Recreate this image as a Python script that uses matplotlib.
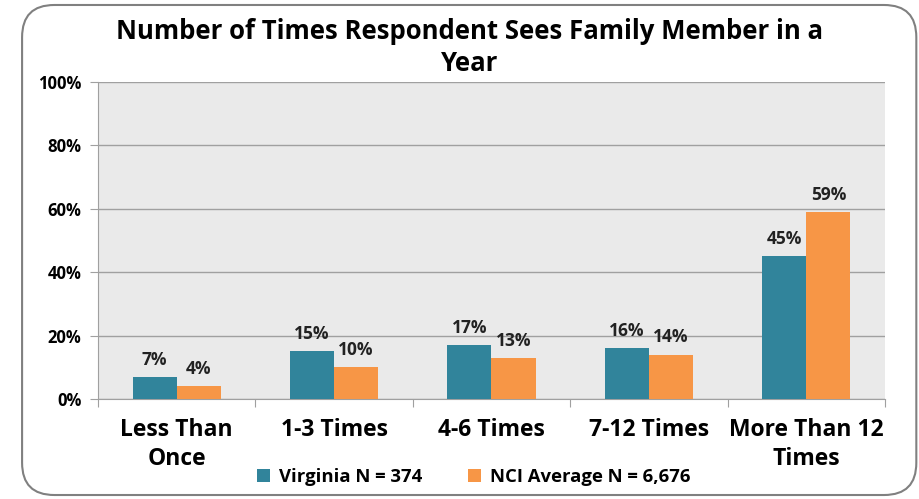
import matplotlib.pyplot as plt
import numpy as np
from matplotlib.patches import FancyBboxPatch

plt.rcParams['font.family'] = ['Open Sans', 'DejaVu Sans']

categories = ['Less Than\nOnce', '1-3 Times', '4-6 Times', '7-12 Times', 'More Than 12\nTimes']
virginia = [7, 15, 17, 16, 45]
nci = [4, 10, 13, 14, 59]
series_names = ['Virginia N = 374', 'NCI Average N = 6,676']
yticks = [0, 20, 40, 60, 80, 100]

teal = '#31849B'
orange = '#F79646'

fig = plt.figure(figsize=(9.2, 4.99), dpi=100)
# rounded chart border
border = FancyBboxPatch((0.024, 0.008), 0.972, 0.982, boxstyle='round,pad=0,rounding_size=0.035',
                        transform=fig.transFigure, facecolor='none', edgecolor='#808080',
                        linewidth=1.5, mutation_aspect=920 / 499, zorder=10)
fig.patches.append(border)

ax = fig.add_axes([98 / 920, 1 - 399 / 499, 787 / 920, 317 / 499])
ax.set_facecolor('#EAEAEA')

x = np.arange(len(categories))
w = 0.28
b1 = ax.bar(x - w / 2, virginia, w, color=teal, label=series_names[0], zorder=3)
b2 = ax.bar(x + w / 2, nci, w, color=orange, label=series_names[1], zorder=3)

for bars, vals in ((b1, virginia), (b2, nci)):
    for rect, v in zip(bars, vals):
        ax.text(rect.get_x() + rect.get_width() / 2, v + 2.6, f'{v}%', ha='center', va='bottom',
                fontsize=12.5, fontweight='bold', color='#222222')

ax.set_xlim(-0.5, len(categories) - 0.5)
ax.set_ylim(0, 100)
ax.set_yticks(yticks)
ax.set_yticklabels([f'{t}%' for t in yticks], fontsize=12, fontweight='bold')
ax.yaxis.grid(True, color='#A0A0A0', linewidth=1, zorder=0)
ax.set_axisbelow(True)

ax.set_xticks(np.arange(len(categories) + 1) - 0.5)
ax.set_xticklabels([])
ax.set_xticks(x, minor=True)
ax.set_xticklabels(categories, minor=True, fontsize=16.5, fontweight='bold', linespacing=1.25)
ax.tick_params(axis='x', which='minor', length=0, pad=14)
ax.tick_params(axis='x', which='major', length=6, color='#A0A0A0')
ax.tick_params(axis='y', length=6, color='#A0A0A0', pad=6)

for s in ['top', 'right']:
    ax.spines[s].set_visible(False)
ax.spines['left'].set_color('#A0A0A0')
ax.spines['bottom'].set_color('#A0A0A0')

fig.text(0.51, 0.905, 'Number of Times Respondent Sees Family Member in a\nYear', ha='center', va='center',
         fontsize=18.5, fontweight='bold', linespacing=1.2)

fig.legend(handles=[b1, b2], loc='center', bbox_to_anchor=(0.515, 0.045), ncol=2, frameon=False,
           prop={'size': 13.3, 'weight': 'bold'}, handlelength=0.7, handleheight=0.7, columnspacing=2.5,
           handletextpad=0.5)

fig.savefig('out.png', dpi=100)
